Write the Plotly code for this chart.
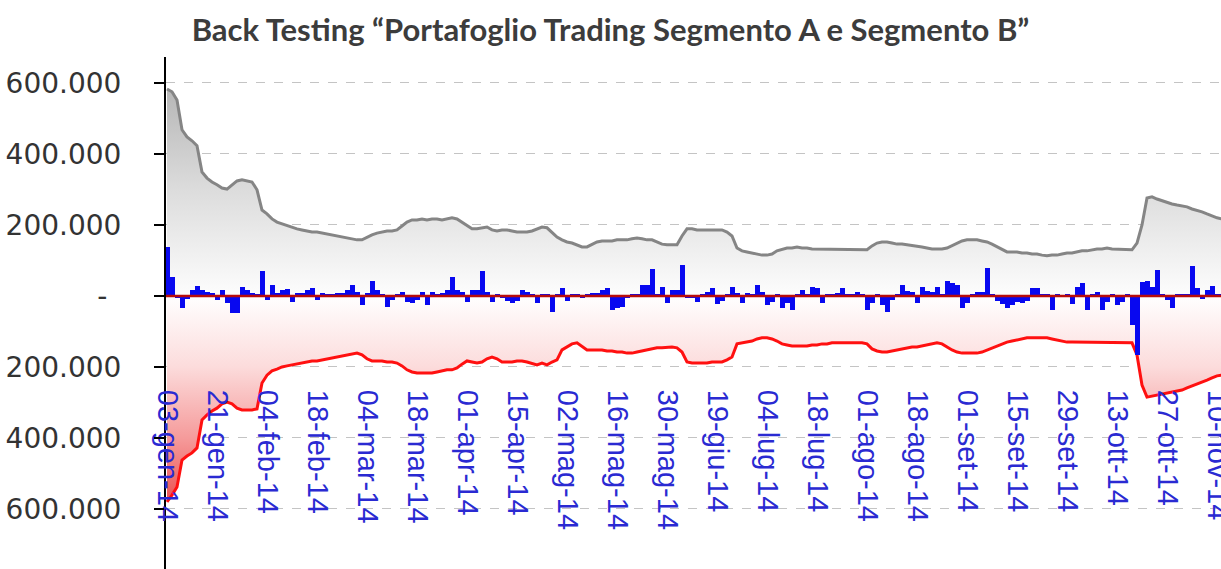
import plotly.graph_objects as go

# ---------------- data (values in thousands of euro) ----------------
trading_day = list(range(212))

tick_days = [0, 10, 20, 30, 40, 50, 60, 70, 80, 90, 100, 110, 120, 130, 140,
             150, 160, 170, 180, 190, 200, 210]
tick_labels = ["03-gen-14", "21-gen-14", "04-feb-14", "18-feb-14", "04-mar-14",
               "18-mar-14", "01-apr-14", "15-apr-14", "02-mag-14", "16-mag-14",
               "30-mag-14", "19-giu-14", "04-lug-14", "18-lug-14", "01-ago-14",
               "18-ago-14", "01-set-14", "15-set-14", "29-set-14", "13-ott-14",
               "27-ott-14", "10-nov-14"]

y_tick_values = [-600, -400, -200, 0, 200, 400, 600]
y_tick_labels = ["600.000", "400.000", "200.000", "-\u2002", "200.000", "400.000", "600.000"]

upper_limit = [
    583, 575, 552, 468, 448, 437, 423, 349, 332, 321,
    313, 304, 301, 313, 324, 327, 324, 321, 299, 242,
    231, 217, 208, 203, 197, 192, 189, 186, 183, 180,
    180, 177, 175, 172, 169, 166, 163, 161, 158, 158,
    166, 172, 177, 180, 183, 183, 186, 197, 208, 214,
    214, 217, 214, 217, 217, 214, 217, 220, 217, 208,
    200, 189, 189, 192, 194, 186, 183, 186, 186, 183,
    180, 180, 180, 183, 189, 194, 192, 180, 166, 158,
    152, 149, 144, 138, 138, 146, 152, 155, 155, 155,
    158, 158, 158, 161, 163, 161, 158, 158, 152, 146,
    144, 144, 144, 169, 189, 189, 186, 186, 186, 186,
    186, 186, 180, 169, 135, 127, 124, 121, 118, 115,
    115, 118, 127, 132, 135, 135, 138, 135, 135, 132,
    132, 130, 130, 130, 130, 130, 130, 130, 130, 130,
    130, 141, 149, 152, 152, 149, 146, 146, 144, 144,
    141, 138, 135, 132, 132, 132, 135, 141, 149, 155,
    158, 158, 158, 155, 152, 146, 138, 130, 124, 124,
    124, 121, 121, 118, 118, 115, 113, 115, 115, 118,
    121, 121, 124, 127, 127, 130, 132, 132, 135, 132,
    132, 132, 130, 130, 149, 200, 276, 279, 273, 268,
    265, 259, 256, 254, 251, 245, 242, 237, 231, 225,
    220, 217,
]

lower_limit = [
    -580, -561, -538, -462, -451, -442, -428, -349, -335, -324,
    -316, -304, -299, -304, -316, -321, -321, -321, -318, -245,
    -223, -211, -206, -200, -197, -194, -192, -189, -186, -183,
    -183, -180, -177, -175, -172, -169, -166, -163, -161, -166,
    -177, -183, -183, -183, -186, -186, -189, -197, -208, -214,
    -217, -217, -217, -217, -214, -211, -208, -208, -203, -192,
    -183, -186, -189, -186, -177, -172, -177, -186, -186, -186,
    -183, -183, -186, -189, -194, -189, -194, -186, -180, -152,
    -144, -135, -132, -141, -152, -152, -152, -152, -155, -155,
    -158, -158, -161, -161, -158, -155, -152, -149, -146, -146,
    -144, -144, -146, -158, -186, -189, -189, -189, -189, -186,
    -186, -186, -180, -172, -135, -132, -130, -127, -121, -118,
    -118, -121, -127, -135, -138, -141, -141, -141, -141, -138,
    -138, -135, -135, -132, -132, -132, -132, -132, -132, -132,
    -135, -149, -155, -158, -158, -155, -152, -149, -146, -144,
    -144, -141, -138, -135, -132, -135, -144, -152, -158, -161,
    -161, -161, -161, -158, -152, -146, -141, -135, -130, -127,
    -124, -121, -118, -118, -118, -118, -118, -121, -124, -127,
    -130, -130, -130, -132, -132, -132, -132, -132, -132, -132,
    -132, -132, -132, -132, -166, -251, -285, -282, -279, -276,
    -273, -270, -268, -265, -259, -254, -248, -242, -237, -231,
    -225, -223,
]

daily_pnl = [
    139, 52, -5, -35, -9, 17, 28, 17, 12, 9,
    -10, 17, -21, -49, -47, 26, 17, 8, 3, 69,
    -10, 31, 8, 17, 20, -16, 8, 9, 17, 22,
    -10, 8, 3, 5, 8, 9, 17, 31, 12, -25,
    8, 42, 17, 3, -30, -11, 3, 12, -16, -21,
    -12, 12, -25, 10, 3, 8, 17, 52, 17, 12,
    -16, 17, 17, 71, 10, -16, 5, -7, -14, -20,
    -14, 17, 12, 5, -20, 5, 3, -46, 3, 22,
    -15, 5, 5, -7, 3, 8, 9, 17, 22, -39,
    -35, -30, -7, 3, 5, 31, 31, 76, 5, 26,
    -20, 17, 17, 87, -7, -7, -16, 5, 12, 22,
    -23, -14, 5, 26, 8, -20, 8, 5, 31, 12,
    -25, -16, 5, -35, -20, -39, 5, 17, 3, 26,
    22, -20, 3, 5, 8, 22, 5, 3, 10, 5,
    -39, -20, 5, -25, -44, -11, 5, 31, 14, 12,
    -20, 26, 14, 10, 26, 5, 42, 36, 30, -35,
    -20, 5, 10, 10, 78, 5, -14, -23, -35, -25,
    -16, -20, -14, 22, 22, 5, 3, -39, 3, 1,
    5, -23, 26, 36, -39, 3, 12, -39, -16, 5,
    -25, -16, 5, -82, -165, 40, 42, 26, 73, 3,
    -11, -35, 5, 5, 5, 83, 22, -8, 17, 28,
    5, 5,
]

Y_RANGE = [-769, 673]

# ---------------- figure ----------------
fig = go.Figure()

fig.add_trace(go.Scatter(
    x=trading_day, y=upper_limit, mode="lines",
    line=dict(color="#858585", width=3),
    fill="tozeroy",
    fillgradient=dict(type="vertical", start=0, stop=600,
                      colorscale=[[0, "#fdfdfd"], [0.5, "#dcdcdc"], [1, "#b4b4b4"]]),
    hoverinfo="skip", showlegend=False,
))

fig.add_trace(go.Scatter(
    x=trading_day, y=lower_limit, mode="lines",
    line=dict(color="#ff1010", width=3),
    fill="tozeroy",
    fillgradient=dict(type="vertical", start=-600, stop=0,
                      colorscale=[[0, "#ea4a4a"], [0.33, "#f59a9a"],
                                  [0.67, "#fcdcdc"], [1, "#ffffff"]]),
    hoverinfo="skip", showlegend=False,
))

# daily P&L bars on an overlaying axis so they are drawn above the filled areas
fig.add_trace(go.Bar(
    x=trading_day, y=daily_pnl, yaxis="y2",
    marker=dict(color="#0808f0", line=dict(width=0)),
    width=1.0, showlegend=False, hoverinfo="skip",
))

# zero reference line drawn above the bars
fig.add_shape(type="line", xref="paper", x0=0, x1=1, yref="y", y0=0, y1=0,
              line=dict(color="#b80c0c", width=2.5), layer="above")

fig.update_layout(
    template="none",
    width=1221, height=569,
    margin=dict(l=166, r=0, t=57, b=0, pad=0),
    paper_bgcolor="white", plot_bgcolor="white",
    bargap=0,
    title=dict(
        text="Back Testing \u201cPortafoglio Trading Segmento A e Segmento B\u201d",
        x=0.5, xref="container", xanchor="center",
        y=1 - 30 / 569, yref="container", yanchor="middle",
        font=dict(family="Lato", size=31, color="#3c3c3c", weight="bold"),
    ),
    xaxis=dict(
        range=[-0.2, 210.8],
        anchor="free", position=0.352,
        showgrid=False, zeroline=False, showline=False,
        tickmode="array", tickvals=tick_days, ticktext=tick_labels,
        tickangle=90, ticks="",
        ticklabeloverflow="allow",
        tickfont=dict(family="Liberation Sans", size=29, color="#2a2ad2"),
        automargin=False,
    ),
    yaxis=dict(
        range=Y_RANGE,
        showgrid=True, gridcolor="#c4c4c4", gridwidth=1, griddash="dash",
        zeroline=False,
        showline=True, linecolor="black", linewidth=2,
        ticks="outside", ticklen=10, tickwidth=1.5, tickcolor="black",
        tickmode="array", tickvals=y_tick_values, ticktext=y_tick_labels,
        tickfont=dict(family="DejaVu Sans", size=28, color="#333333"),
        ticklabelstandoff=27,
        ticklabeloverflow="allow",
        automargin=False,
    ),
    yaxis2=dict(
        range=Y_RANGE, overlaying="y", side="left",
        showgrid=False, zeroline=False, showline=False,
        showticklabels=False, ticks="",
        automargin=False,
    ),
)

fig.write_html(
    "out.html",
    config={"displayModeBar": False},
    post_script="document.body.style.margin='0';document.body.style.overflow='hidden';",
)
